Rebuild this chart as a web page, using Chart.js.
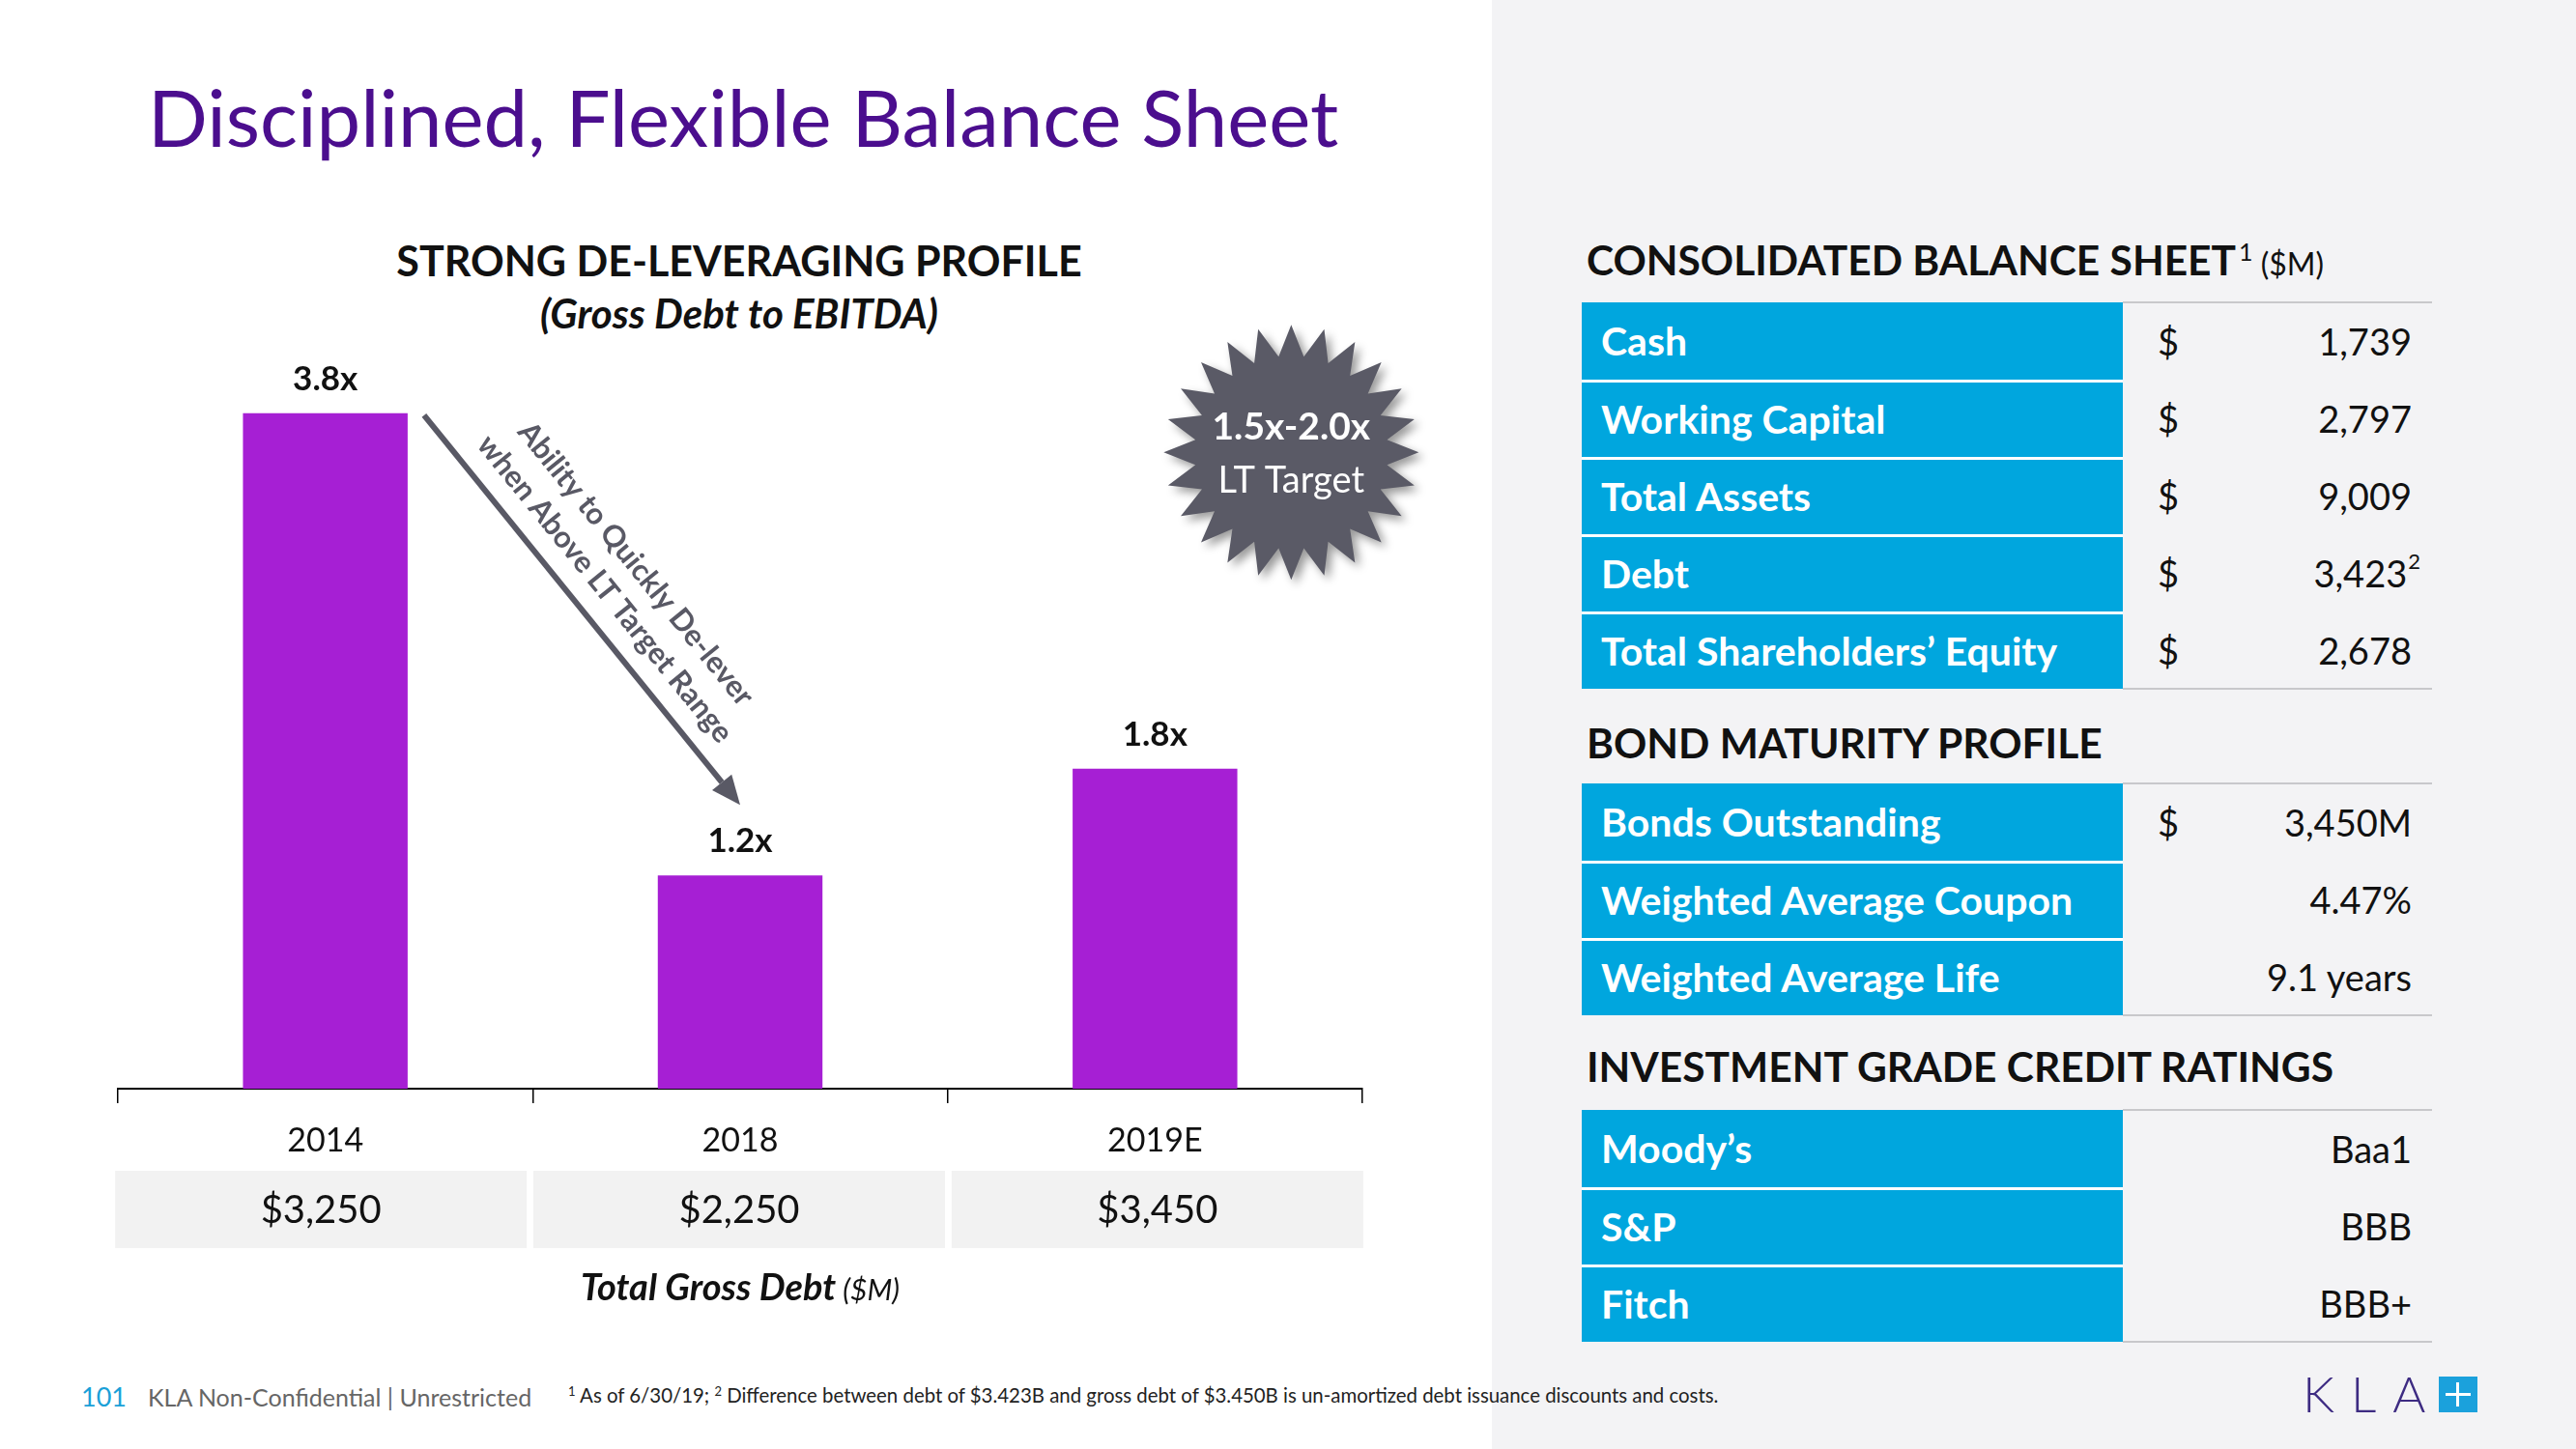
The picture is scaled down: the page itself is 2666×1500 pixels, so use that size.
<!DOCTYPE html>
<html>
<head>
<meta charset="utf-8">
<script src="https://cdn.jsdelivr.net/npm/chart.js@4.4.1/dist/chart.umd.min.js"></script>
<style>
html, body { margin: 0; padding: 0; }
body { width: 2666px; height: 1500px; position: relative; background: #fff; overflow: hidden;
       font-family: Lato, "Open Sans", sans-serif; color: #111; }
.abs { position: absolute; line-height: 1; white-space: nowrap; }
#panel { position: absolute; left: 1544px; top: 0; width: 1122px; height: 1500px; background: #f3f3f5; }
.hdr { font-size: 42.5px; font-weight: 700; color: #111; }
.row { position: absolute; left: 1637px; width: 880px; height: 80px; }
.lab { position: absolute; left: 0; top: 0; width: 560px; height: 80px; box-sizing: border-box;
       background: #00a6de; color: #fff; font-weight: 700; font-size: 41px; padding-left: 20px; padding-bottom: 2px;
       display: flex; align-items: center; }
.row.sep .lab { border-top: 3px solid #fff; }
.dol, .val { position: absolute; top: 0; height: 80px; display: flex; align-items: center; font-size: 38px; color: #111; }
.dol { left: 596px; }
.val { right: 21px; }
.rule { position: absolute; left: 2197px; width: 320px; height: 2px; background: #c8c8cb; }
#chartBox { position: absolute; left: 100px; top: 300px; width: 1400px; height: 1080px; }
</style>
</head>
<body>
<div id="panel"></div>

<div class="abs" style="left:153px;top:80px;font-size:81.5px;color:#4b0e8e;">Disciplined, Flexible Balance Sheet</div>

<div class="abs hdr" style="left:765px;top:248px;font-size:43px;transform:translateX(-50%);">STRONG DE-LEVERAGING PROFILE</div>
<div class="abs" style="left:765px;top:303px;transform:translateX(-50%);font-size:42px;font-weight:700;font-style:italic;">(Gross Debt to EBITDA)</div>

<div id="chartBox"><canvas id="c" width="1400" height="1080"></canvas></div>

<div class="abs hdr" style="left:1642px;top:248px;">CONSOLIDATED BALANCE SHEET<span style="font-size:25px;font-weight:400;position:relative;top:-15px;margin-left:3px;">1</span><span style="font-size:32px;font-weight:400;"> ($M)</span></div>
<div class="abs hdr" style="left:1642px;top:748px;">BOND MATURITY PROFILE</div>
<div class="abs hdr" style="left:1642px;top:1083px;">INVESTMENT GRADE CREDIT RATINGS</div>

<div id="tables"></div>

<div class="abs" style="left:84px;top:1432px;font-size:27px;color:#1aa0d8;">101</div>
<div class="abs" style="left:153px;top:1434px;font-size:25px;color:#666;">KLA Non-Confidential | Unrestricted</div>
<div class="abs" style="left:588px;top:1434px;font-size:20.4px;color:#222;"><span style="font-size:13px;position:relative;top:-7px;">1</span> As of 6/30/19; <span style="font-size:13px;position:relative;top:-7px;">2</span> Difference between debt of $3.423B and gross debt of $3.450B is un-amortized debt issuance discounts and costs.</div>

<div class="abs" style="left:2383px;top:1416px;font-size:52px;font-weight:300;color:#3d2b82;letter-spacing:17px;">KLA</div>
<div class="abs" style="left:2524px;top:1425px;width:40px;height:37px;background:#1ba1dc;">
  <div style="position:absolute;left:18px;top:6px;width:3px;height:25px;background:#fff;"></div>
  <div style="position:absolute;left:7px;top:17px;width:26px;height:3px;background:#fff;"></div>
</div>

<script>
// left chart
const years = ['2014', '2018', '2019E'];
const debtToEbitda = [3.8, 1.2, 1.8];
const grossDebt = [3250, 2250, 3450];

// right side tables
const balanceLabels = ['Cash', 'Working Capital', 'Total Assets', 'Debt', 'Total Shareholders\u2019 Equity'];
const balanceValues = ['1,739', '2,797', '9,009', '3,423', '2,678'];
const balanceNotes = ['', '', '', '2', ''];
const bondLabels = ['Bonds Outstanding', 'Weighted Average Coupon', 'Weighted Average Life'];
const bondValues = ['3,450M', '4.47%', '9.1 years'];
const bondDollar = [true, false, false];
const ratingAgencies = ['Moody\u2019s', 'S&P', 'Fitch'];
const ratings = ['Baa1', 'BBB', 'BBB+'];

function buildTable(top, labels, values, dollars, notes) {
    var box = document.getElementById('tables');
    labels.forEach(function(lab, i) {
        var r = document.createElement('div');
        r.className = 'row' + (i > 0 ? ' sep' : '');
        r.style.top = (top + i * 80) + 'px';
        var l = document.createElement('div');
        l.className = 'lab';
        l.textContent = lab;
        r.appendChild(l);
        if (dollars[i]) {
            var d = document.createElement('div');
            d.className = 'dol';
            d.textContent = '$';
            r.appendChild(d);
        }
        var v = document.createElement('div');
        v.className = 'val';
        v.textContent = values[i];
        if (notes && notes[i]) {
            var s = document.createElement('span');
            s.textContent = notes[i];
            s.style.cssText = 'font-size:22px;position:relative;top:-13px;margin-left:1px;';
            v.appendChild(s);
            v.style.right = '12px';
        }
        r.appendChild(v);
        box.appendChild(r);
    });
    [top - 1, top + labels.length * 80 - 1].forEach(function(y) {
        var ru = document.createElement('div');
        ru.className = 'rule';
        ru.style.top = y + 'px';
        box.appendChild(ru);
    });
}

buildTable(313, balanceLabels, balanceValues, [true, true, true, true, true], balanceNotes);
buildTable(811, bondLabels, bondValues, bondDollar, null);
buildTable(1149, ratingAgencies, ratings, [false, false, false], null);

var annotations = {
    id: 'annotations',
    afterDraw: function(chart) {
        var ctx = chart.ctx, a = chart.chartArea;
        var x = chart.scales.x, y = chart.scales.y;
        var bars = chart.getDatasetMeta(0).data;
        ctx.save();

        // value labels over the bars
        ctx.fillStyle = '#111';
        ctx.textAlign = 'center';
        ctx.textBaseline = 'middle';
        ctx.font = 'bold 35px Lato';
        bars.forEach(function(b, i) {
            ctx.fillText(debtToEbitda[i].toFixed(1) + 'x', b.x, b.y - 35);
        });

        // gross debt boxes under the axis
        var catW = x.getPixelForValue(1) - x.getPixelForValue(0);
        years.forEach(function(yr, i) {
            var cx = x.getPixelForValue(i) + (i - 1) * 3.5 - 1;
            ctx.fillStyle = '#f2f2f2';
            ctx.fillRect(cx - 213, a.bottom + 85, 426, 80);
            ctx.fillStyle = '#111';
            ctx.font = '40px Lato';
            ctx.fillText('$' + grossDebt[i].toLocaleString('en-US'), cx, a.bottom + 126);
        });

        // caption
        var cap1 = 'Total Gross Debt', cap2 = ' ($M)';
        ctx.font = 'italic bold 38px Lato';
        var w1 = ctx.measureText(cap1).width;
        ctx.font = 'italic 30px Lato';
        var w2 = ctx.measureText(cap2).width;
        var sx = (a.left + a.right) / 2 - (w1 + w2) / 2;
        ctx.textAlign = 'left';
        ctx.textBaseline = 'alphabetic';
        ctx.font = 'italic bold 38px Lato';
        ctx.fillText(cap1, sx, a.bottom + 219);
        ctx.font = 'italic 30px Lato';
        ctx.fillText(cap2, sx + w1, a.bottom + 219);

        // de-lever arrow
        var b0 = bars[0], b1 = bars[1];
        var x0 = b0.x + b0.width / 2 + 17, y0 = b0.y + 2;
        var x1 = b1.x, y1 = b1.y - 73;
        var ang = Math.atan2(y1 - y0, x1 - x0);
        var head = 30, hw = 13;
        ctx.strokeStyle = '#595965';
        ctx.fillStyle = '#595965';
        ctx.lineWidth = 6;
        ctx.beginPath();
        ctx.moveTo(x0, y0);
        ctx.lineTo(x1 - head * Math.cos(ang), y1 - head * Math.sin(ang));
        ctx.stroke();
        ctx.beginPath();
        ctx.moveTo(x1, y1);
        ctx.lineTo(x1 - head * Math.cos(ang) + hw * Math.sin(ang), y1 - head * Math.sin(ang) - hw * Math.cos(ang));
        ctx.lineTo(x1 - head * Math.cos(ang) - hw * Math.sin(ang), y1 - head * Math.sin(ang) + hw * Math.cos(ang));
        ctx.closePath();
        ctx.fill();

        ctx.save();
        ctx.translate((x0 + x1) / 2, (y0 + y1) / 2);
        ctx.rotate(ang);
        ctx.textAlign = 'center';
        ctx.textBaseline = 'middle';
        ctx.font = 'bold 31px Lato';
        ctx.fillText('Ability to Quickly De-lever', -2, -73);
        ctx.fillText('when Above LT Target Range', -2, -32);
        ctx.restore();

        // long-term target starburst
        var sx0 = x.getPixelForValue(2) + 141, sy0 = y.getPixelForValue(3.58);
        var pts = 24, ro = 132, ri = 100;
        ctx.save();
        ctx.shadowColor = 'rgba(0,0,0,0.4)';
        ctx.shadowBlur = 10;
        ctx.shadowOffsetX = 5;
        ctx.shadowOffsetY = 5;
        ctx.fillStyle = '#5a5a66';
        ctx.beginPath();
        for (var k = 0; k < pts * 2; k++) {
            var r = k % 2 === 0 ? ro : ri;
            var t = -Math.PI / 2 + k * Math.PI / pts;
            var px = sx0 + r * Math.cos(t), py = sy0 + r * Math.sin(t);
            if (k === 0) ctx.moveTo(px, py); else ctx.lineTo(px, py);
        }
        ctx.closePath();
        ctx.fill();
        ctx.restore();
        ctx.fillStyle = '#fff';
        ctx.textAlign = 'center';
        ctx.textBaseline = 'middle';
        ctx.font = 'bold 39px Lato';
        ctx.fillText('1.5x-2.0x', sx0, sy0 - 26);
        ctx.font = '38px Lato';
        ctx.fillText('LT Target', sx0, sy0 + 29);

        ctx.restore();
    }
};

window.onload = function() {
    var ctx = document.getElementById('c');
    window.myBar = new Chart(ctx, {
        type: 'bar',
        data: {
            labels: years,
            datasets: [{
                data: debtToEbitda,
                backgroundColor: '#a61fd4',
                barPercentage: 0.397,
                categoryPercentage: 1
            }]
        },
        options: {
            responsive: false,
            animation: false,
            layout: { padding: { top: 91, left: 22, right: 90, bottom: 0 } },
            plugins: {
                legend: { display: false },
                tooltip: { enabled: false },
                title: { display: false }
            },
            scales: {
                y: { display: false, min: 0, max: 4 },
                x: {
                    grid: { drawOnChartArea: false, drawTicks: true, tickLength: 15, color: '#000', lineWidth: 1.5 },
                    border: { display: true, color: '#000', width: 2 },
                    ticks: { color: '#111', font: { family: 'Lato', size: 34 }, padding: 19 },
                    afterFit: function(s) { s.height = 253; }
                }
            }
        },
        plugins: [annotations]
    });
};
</script>
</body>
</html>
